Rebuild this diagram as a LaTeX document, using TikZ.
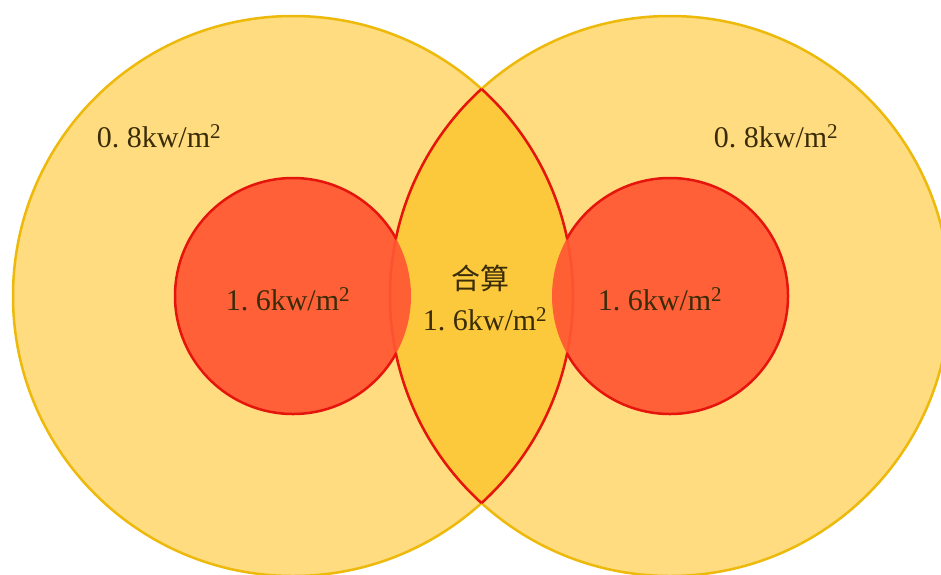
\documentclass[tikz,border=0pt]{standalone}
\usepackage{fontspec}
\setmainfont{Liberation Serif}
\newfontfamily\cjk{Noto Sans CJK SC}
\definecolor{bigfill}{HTML}{FFDC80}
\definecolor{bigline}{HTML}{EDB90A}
\definecolor{lensfill}{HTML}{FDC93C}
\definecolor{redfill}{HTML}{FF5733}
\definecolor{redline}{HTML}{E5140C}
\definecolor{txt}{HTML}{3A2C08}
\begin{document}
\begin{tikzpicture}[x=1pt,y=-1pt,
  lbl/.style={text=txt, font=\fontsize{30}{34}\selectfont, inner sep=0pt},
  cjklbl/.style={text=txt, font=\cjk\fontsize{29}{34}\selectfont, inner sep=0pt},
  bigcirc/.style={draw=bigline, line width=2.5pt},
  redstroke/.style={draw=redline, line width=2.5pt}]
\useasboundingbox (0,0) rectangle (941,574);
\clip (0,0) rectangle (941,574);
\fill[white] (0,0) rectangle (941,574);
\coordinate (L) at (293,296);
\coordinate (R) at (670,296);
% big circles
\fill[bigfill] (L) circle[radius=280pt];
\fill[bigfill] (R) circle[radius=280pt];
\draw[bigcirc] (L) circle[radius=280pt];
\draw[bigcirc] (R) circle[radius=280pt];
% lens
\begin{scope}
  \clip (L) circle[radius=280pt];
  \fill[lensfill] (R) circle[radius=280pt];
  \draw[redstroke] (R) circle[radius=280pt];
\end{scope}
\begin{scope}
  \clip (R) circle[radius=280pt];
  \draw[redstroke] (L) circle[radius=280pt];
\end{scope}
% red circles
\fill[redfill, fill opacity=0.93] (L) circle[radius=118pt];
\fill[redfill, fill opacity=0.93] (R) circle[radius=118pt];
\begin{scope}[even odd rule]
  \clip (-20,-20) rectangle (961,594) (R) circle[radius=280pt];
  \draw[redstroke] (L) circle[radius=118pt];
\end{scope}
\begin{scope}[even odd rule]
  \clip (-20,-20) rectangle (961,594) (L) circle[radius=280pt];
  \draw[redstroke] (R) circle[radius=118pt];
\end{scope}
% labels
\node[lbl] (tl) at (159,136) {0.\hspace{0.25em}8kw/m\textsuperscript{2}};
\node[lbl] (tr) at (776,136) {0.\hspace{0.25em}8kw/m\textsuperscript{2}};
\node[lbl] (rl) at (288,299) {1.\hspace{0.25em}6kw/m\textsuperscript{2}};
\node[lbl] (rr) at (660,299) {1.\hspace{0.25em}6kw/m\textsuperscript{2}};
\node[cjklbl] (hs) at (480,278) {合算};
\node[lbl] (lc) at (485,319) {1.\hspace{0.25em}6kw/m\textsuperscript{2}};
\end{tikzpicture}
\end{document}
